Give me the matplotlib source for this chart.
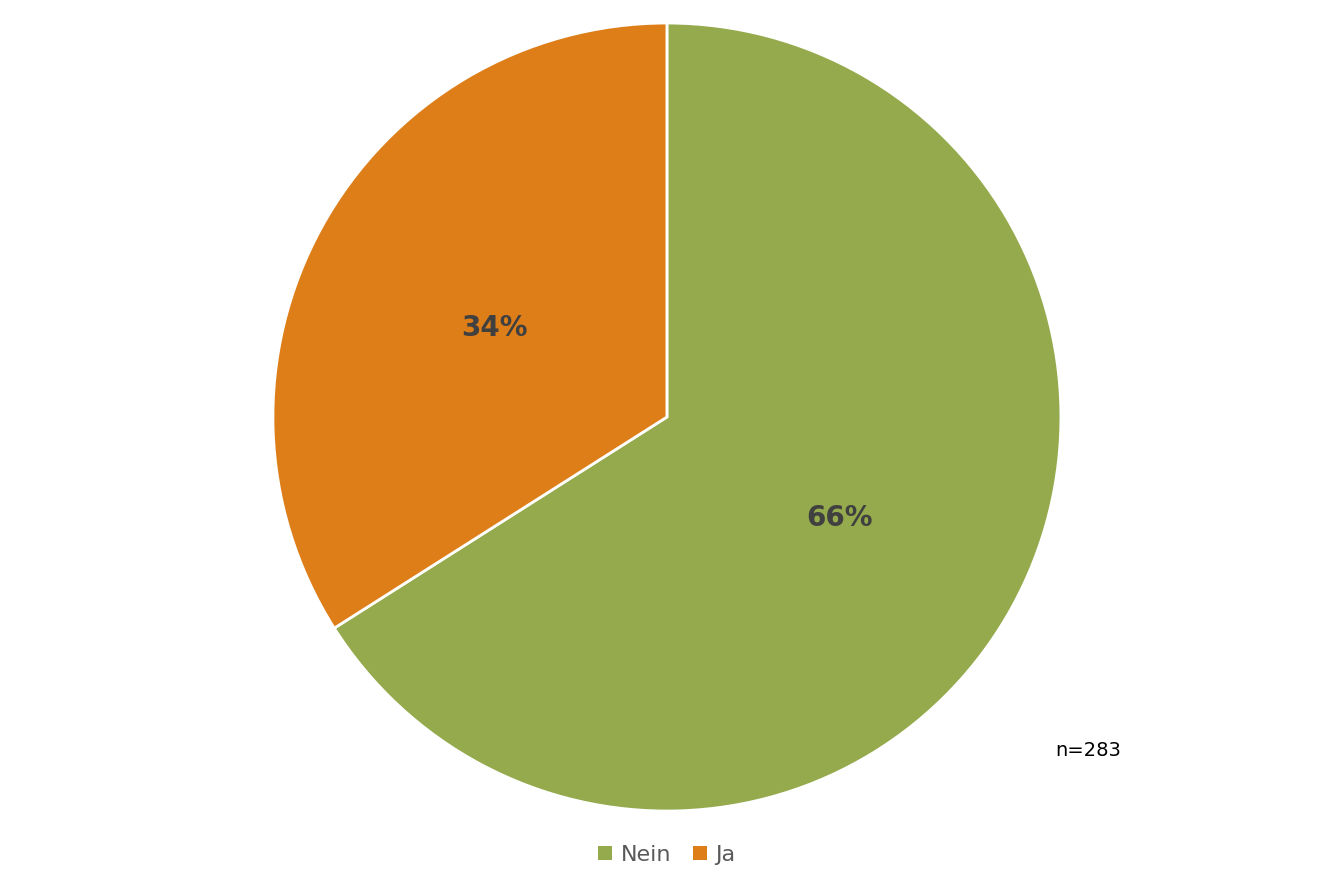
import matplotlib
matplotlib.use("Agg")
import matplotlib.pyplot as plt
from matplotlib.patches import Patch

LABELS = ["Nein", "Ja"]
VALUES = [66, 34]
COLORS = ["#94AA4C", "#DE7E18"]
N_TEXT = "n=283"

plt.rcParams.update({"font.family": "DejaVu Sans"})

fig = plt.figure(figsize=(13.34, 8.89), dpi=100)
ax = fig.add_axes([0.2046, 0.0877, 0.5907, 0.8864])
wedges, texts, autotexts = ax.pie(
    VALUES, colors=COLORS, startangle=90, counterclock=False,
    autopct="%d%%", pctdistance=0.5, radius=1,
    wedgeprops={"edgecolor": "white", "linewidth": 2},
    textprops={"fontsize": 20, "fontweight": "bold", "color": "#404040"},
)
# labels sit a little lower in the original
for t in autotexts:
    x, y = t.get_position()
    t.set_position((x, y - 0.015))
ax.set_xlim(-1, 1); ax.set_ylim(-1, 1)
ax.set_aspect("equal")
ax.axis("off")

fig.text(1088 / 1334, 1 - 751 / 889, N_TEXT, ha="center", va="center",
         fontsize=14, color="black")

handles = [Patch(facecolor=c, edgecolor="none") for c in COLORS]
fig.legend(handles, LABELS, loc="center", bbox_to_anchor=(0.5, 1 - 855 / 889),
           ncol=2, frameon=False, fontsize=16, handlelength=0.6, handleheight=0.6,
           handletextpad=0.4, columnspacing=1.0, labelcolor="#595959")

fig.savefig("out.png", dpi=100)
